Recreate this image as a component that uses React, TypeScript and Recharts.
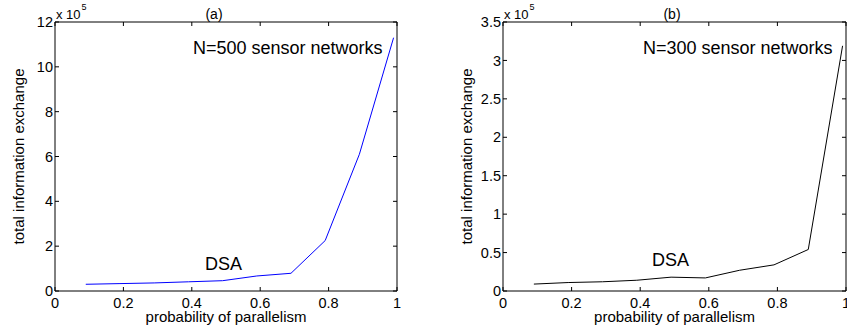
import React from 'react';
import { LineChart, Line, XAxis, YAxis, ReferenceLine } from 'recharts';

const FONT = '"Liberation Sans", Arial, Helvetica, sans-serif';

const xValues = [0.09, 0.19, 0.29, 0.39, 0.49, 0.59, 0.69, 0.79, 0.89, 0.99];
const n500Values = [0.3, 0.33, 0.36, 0.41, 0.46, 0.67, 0.79, 2.25, 6.1, 11.3];
const n300Values = [0.09, 0.11, 0.12, 0.14, 0.18, 0.17, 0.27, 0.34, 0.54, 3.19];
const xTicks = [0, 0.2, 0.4, 0.6, 0.8, 1];
const leftYTicks = [0, 2, 4, 6, 8, 10, 12];
const rightYTicks = [0, 0.5, 1, 1.5, 2, 2.5, 3, 3.5];
const xTitle = 'probability of parallelism';
const yTitle = 'total information exchange';

const TICK_LEN = 4;
const TICK_FONT = 14.5;
const BOTTOM_MARGIN = 7;
const LEFT_MARGIN = 2;
const CHART_H = 333;
const TOP = 22;
const X_AXIS_H = 42;
const PLOT_H = CHART_H - TOP - X_AXIS_H;

const YTitle = (props: any) => {
  const vb = props.viewBox || {};
  const cx = vb.x + props.dxPos;
  const cy = vb.y + vb.height / 2;
  return (
    <text x={cx} y={cy} transform={`rotate(-90 ${cx} ${cy})`} textAnchor="middle" dominantBaseline="central"
      fontSize={15} fontFamily={FONT} fill="#000">{props.text}</text>
  );
};

const XTitle = (props: any) => {
  const vb = props.viewBox || {};
  const cx = vb.x + vb.width / 2;
  return (
    <text x={cx} y={322} textAnchor="middle" fontSize={15} fontFamily={FONT} fill="#000">{props.text}</text>
  );
};

const BottomTick = (props: any) => {
  const { x, y, payload, plotH } = props;
  const axisY = y - BOTTOM_MARGIN;
  const topY = axisY - plotH;
  return (
    <g>
      <line x1={x} x2={x} y1={axisY} y2={axisY - TICK_LEN} stroke="#000" strokeWidth={1} />
      <line x1={x} x2={x} y1={topY} y2={topY + TICK_LEN} stroke="#000" strokeWidth={1} />
      <text x={x} y={y} dy="0.71em" textAnchor="middle" fontSize={TICK_FONT} fontFamily={FONT} fill="#000">
        {String(payload.value)}
      </text>
    </g>
  );
};

const LeftTick = (props: any) => {
  const { x, y, payload, plotW } = props;
  const axisX = x + LEFT_MARGIN;
  const rightX = axisX + plotW;
  return (
    <g>
      <line x1={axisX} x2={axisX + TICK_LEN} y1={y} y2={y} stroke="#000" strokeWidth={1} />
      <line x1={rightX} x2={rightX - TICK_LEN} y1={y} y2={y} stroke="#000" strokeWidth={1} />
      <text x={x} y={y} dy="0.355em" textAnchor="end" fontSize={TICK_FONT} fontFamily={FONT} fill="#000">
        {String(payload.value)}
      </text>
    </g>
  );
};

type PanelProps = {
  width: number;
  yWidth: number;
  rightMargin: number;
  values: number[];
  yMax: number;
  yTicks: number[];
  color: string;
  title: string;
  titleX: number;
  note: string;
  noteX: number;
  dsaX: number;
  dsaY: number;
  yTitleX: number;
};

function Panel(p: PanelProps) {
  const data = xValues.map((x, i) => ({ x, y: p.values[i] }));
  const plotW = p.width - p.yWidth - p.rightMargin;
  return (
    <LineChart width={p.width} height={CHART_H} data={data} margin={{ top: TOP, right: p.rightMargin, bottom: 0, left: 0 }}>
      <XAxis xAxisId="b" dataKey="x" type="number" domain={[0, 1]} ticks={xTicks} interval={0}
        orientation="bottom" height={X_AXIS_H} stroke="#000" tickLine={false} tickSize={0} tickMargin={BOTTOM_MARGIN}
        tick={<BottomTick plotH={PLOT_H} />} label={<XTitle text={xTitle} />} />
      <YAxis yAxisId="l" type="number" domain={[0, p.yMax]} ticks={p.yTicks} interval={0} width={p.yWidth}
        stroke="#000" tickLine={false} tickSize={0} tickMargin={LEFT_MARGIN}
        tick={<LeftTick plotW={plotW} />} label={<YTitle text={yTitle} dxPos={p.yTitleX} />} />
      <ReferenceLine xAxisId="b" yAxisId="l" y={p.yMax} stroke="#000" strokeWidth={1} />
      <ReferenceLine xAxisId="b" yAxisId="l" x={1} stroke="#000" strokeWidth={1} />
      <Line xAxisId="b" yAxisId="l" dataKey="y" stroke={p.color} strokeWidth={1} dot={false}
        isAnimationActive={false} />
      <text x={p.yWidth + 1} y={19} fontSize={13} fontFamily={FONT} fill="#000">x 10</text>
      <text x={p.yWidth + 26.5} y={10} fontSize={9} fontFamily={FONT} fill="#000">5</text>
      <text x={p.titleX} y={19} fontSize={14} fontFamily={FONT} fill="#000" textAnchor="middle">{p.title}</text>
      <text x={p.noteX} y={54} fontSize={18} fontFamily={FONT} fill="#000">{p.note}</text>
      <text x={p.dsaX} y={p.dsaY} fontSize={18} fontFamily={FONT} fill="#000">DSA</text>
    </LineChart>
  );
}

export default function App() {
  return (
    <div style={{ position: 'absolute', left: 0, top: 0, width: 847, height: 333, background: '#fff' }}>
      <div style={{ position: 'absolute', left: 0, top: 0 }}>
        <Panel width={420} yWidth={55} rightMargin={23} values={n500Values} yMax={12} yTicks={leftYTicks}
          color="#0000ff" title="(a)" titleX={214} note="N=500 sensor networks" noteX={193}
          dsaX={205} dsaY={270} yTitleX={18} />
      </div>
      <div style={{ position: 'absolute', left: 420, top: 0 }}>
        <Panel width={427} yWidth={83} rightMargin={1} values={n300Values} yMax={3.5} yTicks={rightYTicks}
          color="#000000" title="(b)" titleX={252} note="N=300 sensor networks" noteX={223}
          dsaX={232} dsaY={266} yTitleX={46} />
      </div>
    </div>
  );
}
